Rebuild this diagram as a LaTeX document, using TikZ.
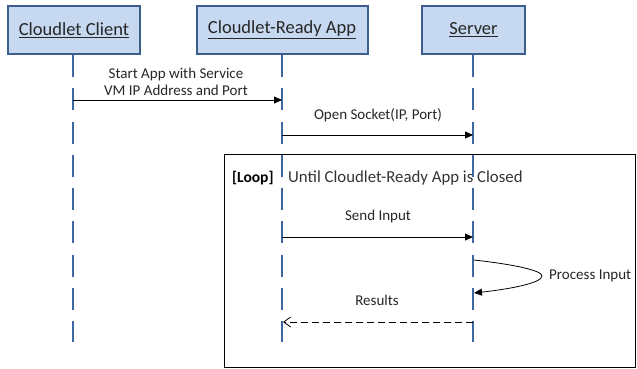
\documentclass[tikz,border=0pt]{standalone}
\usepackage{fontspec}
\setmainfont{Carlito}
\usetikzlibrary{arrows.meta}
\definecolor{boxfill}{HTML}{C6D9F1}
\definecolor{boxline}{HTML}{3B5E8C}
\definecolor{lifecol}{HTML}{3E66A0}
\begin{document}
\begin{tikzpicture}[x=1pt,y=-1pt,
  actor/.style={draw=boxline,line width=2pt,fill=boxfill,minimum height=48pt,inner sep=0pt,font=\fontsize{18.5}{20}\selectfont,text=black!85},
  lifeline/.style={draw=lifecol,line width=2.6pt,dash pattern=on 22pt off 11.25pt},
  msg/.style={draw=black,line width=0.8pt,-{Triangle[length=8pt,width=7pt]}},
  ret/.style={draw=black,line width=0.8pt,dash pattern=on 7pt off 4pt,-{Straight Barb[length=7pt,width=10pt]}},
  lbl/.style={font=\fontsize{15}{17}\selectfont,inner sep=0pt,align=center,text=black!85}]
\useasboundingbox (0,0) rectangle (637,368);
% loop frame
\draw[line width=0.8pt] (224,154) rectangle (635.5,367.5);
\node[anchor=west,inner sep=0pt,font=\fontsize{15.5}{17}\selectfont\bfseries] (loopt) at (232,178) {[Loop]};
\node[anchor=west,inner sep=0pt,font=\fontsize{16.8}{18}\selectfont,text=black!80] (cond) at (288,178) {Until Cloudlet-Ready App is Closed};
% actors
\node[actor,minimum width=132pt] (client) at (74,30) {\underline{Cloudlet Client}};
\node[actor,minimum width=171pt] (app) at (282,30) {\underline{Cloudlet-Ready App}};
\node[actor,minimum width=103pt] (server) at (473.5,30) {\underline{Server}};
% lifelines
\coordinate (cend) at (73,342);
\coordinate (aend) at (282,342);
\coordinate (send) at (473,342);
\draw[lifeline] (client.south -| cend) -- (cend);
\draw[lifeline] (app.south -| aend) -- (aend);
\draw[lifeline] (server.south -| send) -- (send);
% messages
\coordinate (c1) at (73,100); \coordinate (a1) at (282,100);
\draw[msg] (c1) -- (a1);
\node[lbl] (m1) at (176,82) {Start App with Service\\VM IP Address and Port};
\coordinate (a2) at (282,135); \coordinate (s2) at (473,135);
\draw[msg] (a2) -- (s2);
\node[lbl] (m2) at (378,115) {Open Socket(IP, Port)};
\coordinate (a3) at (282,237); \coordinate (s3) at (473,237);
\draw[msg] (a3) -- (s3);
\node[lbl] (m3) at (378,216) {Send Input};
\coordinate (s4) at (474,260); \coordinate (s5) at (474,293);
\draw[draw=black,line width=0.8pt,-{Triangle[length=8pt,width=7pt]}] (s4) .. controls (510,264) and (542,270) .. (542,276) .. controls (542,283) and (510,289) .. (s5);
\node[lbl,anchor=west] (m4) at (549,276) {Process Input};
\coordinate (s6) at (473,322); \coordinate (a6) at (283,322);
\draw[ret] (s6) -- (a6);
\node[lbl] (m5) at (377,300) {Results};
\end{tikzpicture}
\end{document}
